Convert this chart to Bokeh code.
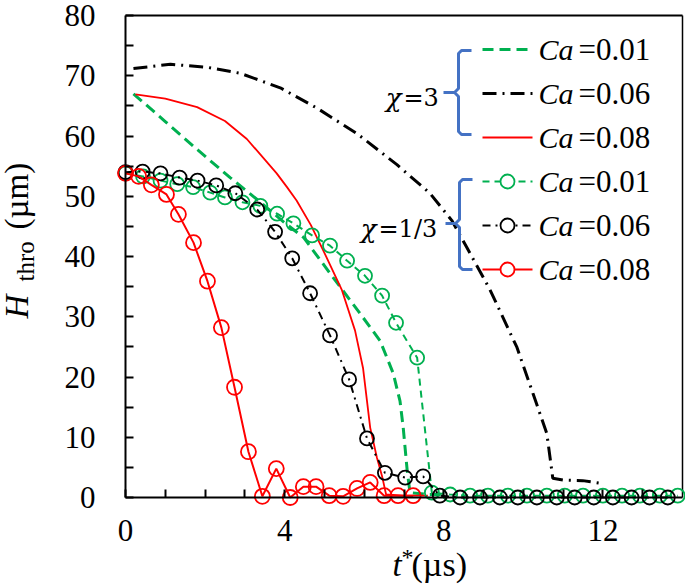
from bokeh.plotting import figure
from bokeh.models import FixedTicker, Label, Range1d
from bokeh.embed import file_html
from bokeh.resources import INLINE

# ---------------- data ----------------
# chi = 3
t_x3_ca001 = [0.2, 1.0, 1.83, 2.63, 3.3, 4.0, 4.47, 5.22, 5.9, 6.4, 6.73, 6.9, 6.98, 7.08, 7.15, 7.6, 8.0]
h_x3_ca001 = [67.0, 62.4, 57.6, 53.1, 49.5, 45.6, 43.2, 36.5, 30.5, 26.0, 20.6, 16.0, 11.6, 4.5, 0.8, 0.5, 0.5]

t_x3_ca006 = [0.2, 1.13, 2.06, 2.89, 3.89, 4.82, 5.82, 6.83, 7.65, 8.2, 8.58, 9.16, 9.84, 10.24, 10.59, 10.74, 11.0, 11.49, 12.0]
h_x3_ca006 = [71.2, 71.9, 71.4, 70.4, 68.0, 64.6, 60.4, 55.2, 50.5, 46.0, 41.5, 34.5, 24.9, 17.3, 10.6, 3.2, 2.9, 2.8, 2.3]

t_x3_ca008 = [0.25, 1.0, 1.8, 2.5, 3.05, 3.8, 4.05, 4.3, 4.66, 5.0, 5.44, 5.77, 5.97, 6.15, 6.32, 6.45, 6.55, 7.0, 7.6]
h_x3_ca008 = [66.9, 66.2, 64.8, 62.5, 59.5, 53.8, 51.6, 49.3, 45.2, 40.6, 34.4, 27.7, 21.5, 11.6, 6.6, 3.5, 0.5, 0.3, 0.3]

# chi = 1/3
t_x13_ca001 = [0.0, 0.44, 0.88, 1.3, 1.7, 2.13, 2.5, 2.94, 3.39, 3.81, 4.22, 4.69, 5.14, 5.57, 6.02, 6.45,
               6.8, 7.33, 7.7, 8.16, 8.66, 9.11, 9.61, 10.09, 10.59, 11.04, 11.5, 12.0, 12.48, 12.93, 13.43, 13.88]
h_x13_ca001 = [53.8, 53.3, 52.6, 52.0, 51.5, 50.6, 49.8, 49.0, 48.4, 47.1, 45.5, 43.5, 41.8, 39.3, 36.8, 33.5,
               29.0, 23.2, 0.8, 0.5, 0.3, 0.3, 0.3, 0.3, 0.3, 0.3, 0.3, 0.3, 0.3, 0.3, 0.3, 0.3]

t_x13_ca006 = [0.0, 0.43, 0.88, 1.36, 1.81, 2.28, 2.76, 3.31, 3.76, 4.19, 4.64, 5.14, 5.62, 6.07, 6.52, 7.03,
               7.48, 7.9, 8.41, 8.91, 9.41, 9.86, 10.34, 10.84, 11.29, 11.77, 12.25, 12.72, 13.17, 13.63]
h_x13_ca006 = [54.0, 54.1, 53.8, 53.1, 52.6, 51.8, 50.5, 47.8, 44.1, 39.7, 33.9, 26.9, 19.6, 9.8, 4.1, 3.3,
               3.5, 0.3, 0.0, 0.0, 0.0, 0.0, 0.0, 0.0, 0.0, 0.0, 0.0, 0.0, 0.0, 0.0]

t_x13_ca008 = [0.0, 0.33, 0.65, 1.03, 1.33, 1.71, 2.06, 2.41, 2.74, 3.09, 3.44, 3.79, 4.14, 4.47, 4.79,
               5.12, 5.47, 5.82, 6.15, 6.5, 6.85, 7.23]
h_x13_ca008 = [53.8, 53.3, 51.9, 50.3, 47.0, 42.3, 35.9, 28.2, 18.3, 7.6, 0.2, 4.8, 0.0, 1.8, 1.8,
               0.3, 0.2, 1.5, 2.5, 0.3, 0.3, 0.3]

x_ticks = [0, 4, 8, 12]
x_minor = [1, 2, 3, 5, 6, 7, 9, 10, 11, 13]
y_ticks = [0, 10, 20, 30, 40, 50, 60, 70, 80]
y_minor = [5, 15, 25, 35, 45, 55, 65, 75]
X_MAX = 14
Y_MAX = 80

ca_labels = ["0.01", "0.06", "0.08"]
chi_labels = ["3", "1/3"]

# ---------------- styles / layout ----------------
GREEN = "#00B050"
RED = "#FF0000"
BLACK = "#000000"
BLUE = "#4472C4"
SERIF = "Liberation Serif"
MATH = "DejaVu Serif"

W, H = 685, 587
X0_PX, X1_PX = 125, 682     # pixel of t=0 and t=14
Y0_PX, Y1_PX = 497, 15      # pixel of H=0 and H=80
SX = (X1_PX - X0_PX) / X_MAX
SY = (Y0_PX - Y1_PX) / Y_MAX
TICK_PX = 8


def tx(px):
    return (px - X0_PX) / SX


def hy(py):
    return (Y0_PX - py) / SY


p = figure(width=W, height=H, output_backend="svg", toolbar_location=None,
           x_range=Range1d(tx(0), tx(W)), y_range=Range1d(hy(H), hy(0)),
           min_border=0, min_border_left=0, min_border_right=0,
           min_border_top=0, min_border_bottom=0)
p.outline_line_color = None
p.grid.visible = False
p.background_fill_color = "white"
p.border_fill_color = "white"

for ax in (p.xaxis[0], p.yaxis[0]):
    ax.fixed_location = 0
    ax.axis_line_width = 2
    ax.axis_line_color = BLACK
    ax.major_tick_in = TICK_PX
    ax.major_tick_out = 0
    ax.minor_tick_in = TICK_PX
    ax.minor_tick_out = 0
    ax.major_tick_line_width = 2
    ax.minor_tick_line_width = 2
    ax.major_tick_line_color = BLACK
    ax.minor_tick_line_color = BLACK
    ax.major_label_text_font = SERIF
    ax.major_label_text_font_size = "31px"
    ax.major_label_text_color = BLACK
p.xaxis.ticker = FixedTicker(ticks=x_ticks, minor_ticks=x_minor)
p.yaxis.ticker = FixedTicker(ticks=y_ticks, minor_ticks=y_minor)
p.xaxis.bounds = (0, X_MAX)
p.yaxis.bounds = (0, Y_MAX)
p.xaxis.major_label_standoff = 22
p.yaxis.major_label_standoff = 30

# frame top / right border
p.line([0, X_MAX], [Y_MAX, Y_MAX], line_color=BLACK, line_width=2)
p.line([X_MAX, X_MAX], [0, Y_MAX], line_color=BLACK, line_width=1.5)

# ---------------- series ----------------
DASH_G3 = "11 6"
DASH_K3 = "14 6 2 6"
DASH_G13 = "7 5"
DASH_K13 = "8 5 2 5"

p.line(t_x3_ca001, h_x3_ca001, line_color=GREEN, line_width=3, line_dash=DASH_G3)
p.line(t_x3_ca006, h_x3_ca006, line_color=BLACK, line_width=3, line_dash=DASH_K3)
p.line(t_x3_ca008, h_x3_ca008, line_color=RED, line_width=1.8)

p.line(t_x13_ca001, h_x13_ca001, line_color=GREEN, line_width=2, line_dash=DASH_G13)
p.scatter(t_x13_ca001, h_x13_ca001, marker="circle", size=14, fill_color=None,
          line_color=GREEN, line_width=1.8)
p.line(t_x13_ca006, h_x13_ca006, line_color=BLACK, line_width=2, line_dash=DASH_K13)
p.scatter(t_x13_ca006, h_x13_ca006, marker="circle", size=14, fill_color=None,
          line_color=BLACK, line_width=1.8)
p.line(t_x13_ca008, h_x13_ca008, line_color=RED, line_width=2)
p.scatter(t_x13_ca008, h_x13_ca008, marker="circle", size=15, fill_color=None,
          line_color=RED, line_width=1.8)

# ---------------- legend (hand-built, positions in reference pixels) ----------------
rows_py = [49, 93, 137, 181, 225, 269]
styles = [
    dict(color=GREEN, width=3, dash=DASH_G3, marker=False),
    dict(color=BLACK, width=3, dash=DASH_K3, marker=False),
    dict(color=RED, width=1.8, dash="solid", marker=False),
    dict(color=GREEN, width=2, dash=DASH_G13, marker=True),
    dict(color=BLACK, width=2, dash=DASH_K13, marker=True),
    dict(color=RED, width=2, dash="solid", marker=True),
]
for i, (py, st) in enumerate(zip(rows_py, styles)):
    yv = hy(py)
    p.line([tx(482), tx(532)], [yv, yv], line_color=st["color"], line_width=st["width"],
           line_dash=st["dash"])
    if st["marker"]:
        p.scatter([tx(507)], [yv], marker="circle", size=14, fill_color="white",
                  line_color=st["color"], line_width=1.8)
    p.add_layout(Label(x=tx(538), y=yv, text="Ca", text_font=SERIF, text_font_style="italic",
                       text_font_size="30px", text_baseline="middle", text_align="left",
                       text_color=BLACK))
    p.add_layout(Label(x=tx(578), y=yv, text="=" + ca_labels[i % 3], text_font=SERIF,
                       text_font_size="31px", text_baseline="middle", text_align="left",
                       text_color=BLACK))


def brace(top, bottom, spine, right, mid, tip):
    xs = [right, spine + 3, spine, spine, spine - 4, tip, spine - 4, spine, spine, spine + 3, right]
    ys = [top, top, top + 3, mid - 4, mid, mid, mid, mid + 4, bottom - 3, bottom, bottom]
    p.line([tx(v) for v in xs], [hy(v) for v in ys], line_color=BLUE, line_width=3)


brace(50, 134, 458, 471, 92, 443)
brace(179, 269, 459, 472, 223, 445)

for chi, (py, chi_px) in zip(chi_labels, [(97, 401), (228, 376)]):
    p.add_layout(Label(x=tx(chi_px), y=hy(py), text="\u03c7", text_font=MATH,
                       text_font_style="italic", text_font_size="26px",
                       text_baseline="middle", text_align="right", text_color=BLACK))
    p.add_layout(Label(x=tx(chi_px + 2), y=hy(py), text="=" + chi, text_font=MATH,
                       text_font_size="24px", text_baseline="middle", text_align="left",
                       text_color=BLACK))

# ---------------- axis titles ----------------
p.add_layout(Label(x=tx(16), y=hy(318), text="H", text_font=SERIF, text_font_style="italic",
                   text_font_size="33px", angle=90, angle_units="deg",
                   text_align="left", text_baseline="alphabetic", text_color=BLACK))
p.add_layout(Label(x=tx(25), y=hy(281), text="thro", text_font=SERIF,
                   text_font_size="25px", angle=90, angle_units="deg",
                   text_align="left", text_baseline="alphabetic", text_color=BLACK))
p.add_layout(Label(x=tx(16), y=hy(229), text="(\u00b5m)", text_font=SERIF,
                   text_font_size="33px", angle=90, angle_units="deg",
                   text_align="left", text_baseline="alphabetic", text_color=BLACK))

p.add_layout(Label(x=tx(392), y=hy(564), text="t", text_font=SERIF, text_font_style="italic",
                   text_font_size="33px", text_align="left", text_baseline="alphabetic",
                   text_color=BLACK))
p.add_layout(Label(x=tx(401), y=hy(556), text="*", text_font=SERIF,
                   text_font_size="24px", text_align="left", text_baseline="alphabetic",
                   text_color=BLACK))
p.add_layout(Label(x=tx(411), y=hy(564), text="(\u00b5s)", text_font=SERIF,
                   text_font_size="34px", text_align="left", text_baseline="alphabetic",
                   text_color=BLACK))

open("out.html", "w").write(file_html(p, INLINE))
